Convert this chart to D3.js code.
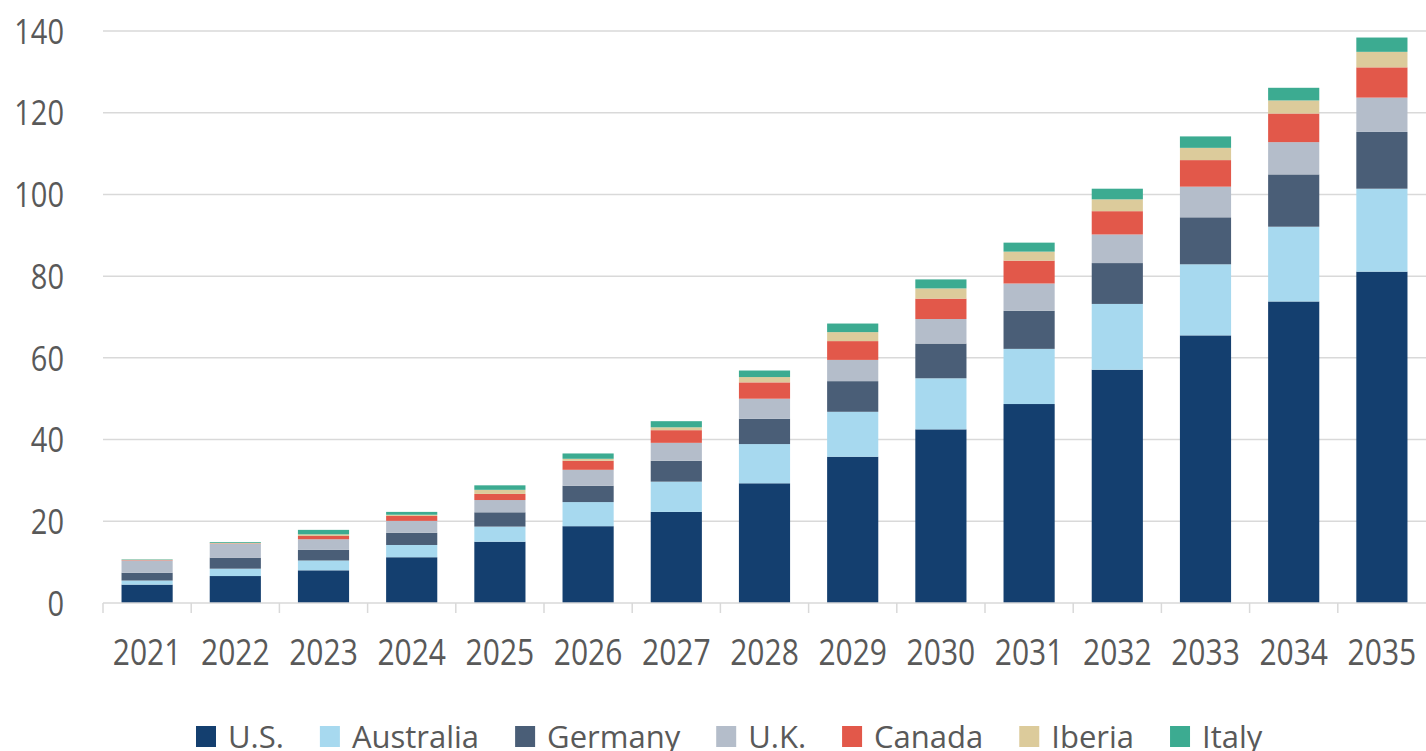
<!DOCTYPE html>
<html>
<head>
<meta charset="utf-8">
<script src="https://cdn.jsdelivr.net/npm/d3@7"></script>
<style>
  body { margin: 0; background: #fff; }
  text { font-family: "Open Sans", sans-serif; fill: #595959; }
</style>
</head>
<body>
<svg id="drawing_region"></svg>
<script>
const years = ["2021","2022","2023","2024","2025","2026","2027","2028","2029","2030","2031","2032","2033","2034","2035"];
const seriesNames = ["U.S.","Australia","Germany","U.K.","Canada","Iberia","Italy"];
const colors = ["#143f6f","#a7d9ef","#4a5e77","#b4bdca","#e2584a","#dccb9b","#3cab91"];
const yTicks = [0,20,40,60,80,100,120,140];

const us        = [4.5, 6.6, 8.0, 11.2, 15.0, 18.8, 22.3, 29.3, 35.8, 42.5, 48.7, 57.1, 65.5, 73.8, 81.1];
const australia = [1.0, 1.8, 2.4, 3.0, 3.7, 5.9, 7.4, 9.6, 11.0, 12.5, 13.5, 16.1, 17.4, 18.3, 20.3];
const germany   = [1.9, 2.7, 2.6, 3.0, 3.5, 4.0, 5.1, 6.2, 7.5, 8.5, 9.3, 10.0, 11.5, 12.8, 13.9];
const uk        = [3.0, 3.4, 2.6, 2.9, 3.0, 3.9, 4.4, 4.9, 5.2, 6.0, 6.7, 7.0, 7.5, 7.9, 8.4];
const canada    = [0.1, 0.1, 0.8, 1.2, 1.5, 2.2, 3.1, 4.0, 4.6, 5.0, 5.6, 5.7, 6.5, 7.0, 7.4];
const iberia    = [0.1, 0.1, 0.4, 0.3, 1.0, 0.5, 0.7, 1.3, 2.2, 2.5, 2.2, 2.9, 3.0, 3.2, 3.8];
const italy     = [0.1, 0.2, 1.1, 0.7, 1.1, 1.3, 1.5, 1.6, 2.1, 2.2, 2.2, 2.6, 2.8, 3.1, 3.5];

const seriesValues = [us, australia, germany, uk, canada, iberia, italy];

// table for d3.stack
const data = years.map((y, i) => {
    let row = { year: y };
    seriesNames.forEach((s, k) => { row[s] = seriesValues[k][i]; });
    return row;
});

const width = 1426, height = 751;
const margin = { top: 31, right: 0, bottom: 148, left: 103 };
const innerW = width - margin.left - margin.right;
const innerH = height - margin.top - margin.bottom;

const svg = d3.select('#drawing_region')
    .attr('width', width)
    .attr('height', height);

const chart = svg.append('g')
    .attr('transform', `translate(${margin.left}, ${margin.top})`);

const xscale = d3.scaleBand()
    .domain(years)
    .range([0, innerW])
    .paddingInner(0.42)
    .paddingOuter(0.21);

const yscale = d3.scaleLinear()
    .domain([0, 140])
    .range([innerH, 0]);

// gridlines
chart.append('g')
    .selectAll('line')
    .data(yTicks.filter(d => d > 0))
    .join('line')
    .attr('x1', 0)
    .attr('x2', innerW)
    .attr('y1', d => yscale(d))
    .attr('y2', d => yscale(d))
    .attr('stroke', '#d9d9d9')
    .attr('stroke-width', 1.5);

// y labels (the source text is a bit stretched vertically)
chart.append('g')
    .selectAll('text')
    .data(yTicks)
    .join('text')
    .attr('transform', d => `translate(-39, ${yscale(d)}) scale(1, 1.22)`)
    .attr('dy', '0.36em')
    .attr('text-anchor', 'end')
    .style('font-size', '29px')
    .text(d => d);

// stacked bars
const stack = d3.stack().keys(seriesNames);
const stacked = stack(data);

chart.append('g')
    .selectAll('g')
    .data(stacked)
    .join('g')
    .attr('fill', (d, i) => colors[i])
    .selectAll('rect')
    .data(d => d)
    .join('rect')
    .attr('x', d => xscale(d.data.year))
    .attr('y', d => yscale(d[1]))
    .attr('width', xscale.bandwidth())
    .attr('height', d => yscale(d[0]) - yscale(d[1]));

// x axis
const xaxis_group = chart.append('g')
    .attr('transform', `translate(0, ${innerH})`);

xaxis_group.append('line')
    .attr('x1', 0).attr('x2', innerW)
    .attr('stroke', '#d9d9d9')
    .attr('stroke-width', 1.5);

xaxis_group.selectAll('.tick')
    .data(years)
    .join('line')
    .attr('class', 'tick')
    .attr('x1', d => xscale(d) - xscale.step() * xscale.paddingOuter())
    .attr('x2', d => xscale(d) - xscale.step() * xscale.paddingOuter())
    .attr('y1', 0)
    .attr('y2', 10)
    .attr('stroke', '#d9d9d9')
    .attr('stroke-width', 1.5);

xaxis_group.selectAll('text')
    .data(years)
    .join('text')
    .attr('transform', d => `translate(${xscale(d) + xscale.bandwidth() / 2}, 62) scale(1, 1.2)`)
    .attr('text-anchor', 'middle')
    .style('font-size', '30px')
    .text(d => d);

// legend
const legend = svg.append('g')
    .attr('transform', `translate(196, 737)`);

const items = legend.selectAll('g')
    .data(seriesNames)
    .join('g');

items.append('rect')
    .attr('width', 20)
    .attr('height', 21)
    .attr('y', -11)
    .attr('fill', (d, i) => colors[i]);

items.append('text')
    .attr('x', 32)
    .attr('y', 0)
    .attr('dy', '0.36em')
    .style('font-size', '31px')
    .text(d => d);

let pos = 0;
const gap = 36;
items.each(function () {
    const w = 32 + this.querySelector('text').getComputedTextLength();
    d3.select(this).attr('transform', `translate(${pos}, 0)`);
    pos += w + gap;
});
</script>
</body>
</html>
